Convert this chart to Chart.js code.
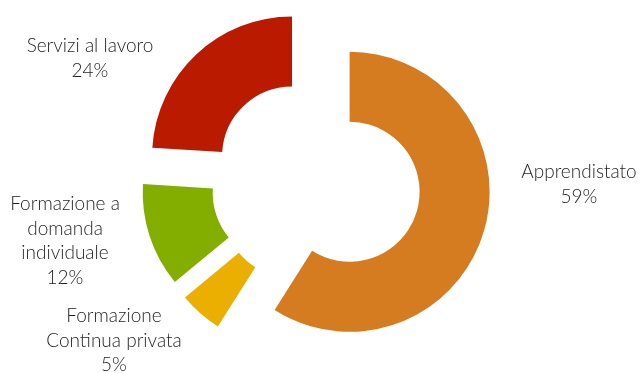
<!DOCTYPE html>
<html>
<head>
<meta charset="utf-8">
<script src="https://cdn.jsdelivr.net/npm/chart.js@4"></script>
<style>
  html, body { margin: 0; padding: 0; background: #fff; }
  #wrap { width: 643px; height: 373px; }
</style>
</head>
<body>
<div id="wrap"><canvas id="myChart" width="643" height="373"></canvas></div>
<script>
// dati
const categories = ['Apprendistato', 'Formazione Continua privata', 'Formazione a domanda individuale', 'Servizi al lavoro'];
const shares = [59, 5, 12, 24];
const labelLines = [
    ['Apprendistato'],
    ['Formazione', 'Continua privata'],
    ['Formazione a', 'domanda', 'individuale'],
    ['Servizi al lavoro']
];
const colors = ['#D47C1F', '#EAAF00', '#83AE00', '#BA1B00'];

// posizione etichette rispetto al centro (prima riga)
const labelOffsets = [[263, -10], [-202, 134], [-251, 22], [-226, -136]];
const explode = 35;

// spicchi staccati: sposta ogni arco lungo la sua bisettrice
const explodeSlices = {
    id: 'explodeSlices',
    beforeDatasetDraw(chart, args) {
        const ctx = chart.ctx;
        args.meta.data.forEach(arc => {
            const mid = (arc.startAngle + arc.endAngle) / 2;
            ctx.save();
            ctx.translate(Math.cos(mid) * explode, Math.sin(mid) * explode);
            arc.draw(ctx);
            ctx.restore();
        });
        return false;
    }
};

const sliceLabels = {
    id: 'sliceLabels',
    afterDraw(chart) {
        const ctx = chart.ctx;
        const arc = chart.getDatasetMeta(0).data[0];
        const cx = arc.x, cy = arc.y;
        ctx.save();
        ctx.font = '300 19px Lato';
        ctx.fillStyle = '#1e1e1e';
        ctx.textAlign = 'center';
        ctx.textBaseline = 'middle';
        labelLines.forEach((lines, i) => {
            const all = lines.concat([shares[i] + '%']);
            all.forEach((t, j) => {
                ctx.fillText(t, cx + labelOffsets[i][0], cy + labelOffsets[i][1] + j * 24.5);
            });
        });
        ctx.restore();
    }
};

const ctx = document.getElementById('myChart').getContext('2d');
const myChart = new Chart(ctx, {
    type: 'doughnut',
    data: {
        labels: categories,
        datasets: [{
            data: shares,
            backgroundColor: colors,
            borderWidth: 0
        }]
    },
    options: {
        responsive: false,
        animation: false,
        radius: 140,
        cutout: '50%',
        layout: { padding: { left: 0, right: 11, top: 0, bottom: 9 } },
        plugins: {
            legend: { display: false },
            tooltip: { enabled: false }
        }
    },
    plugins: [explodeSlices, sliceLabels]
});
</script>
</body>
</html>
